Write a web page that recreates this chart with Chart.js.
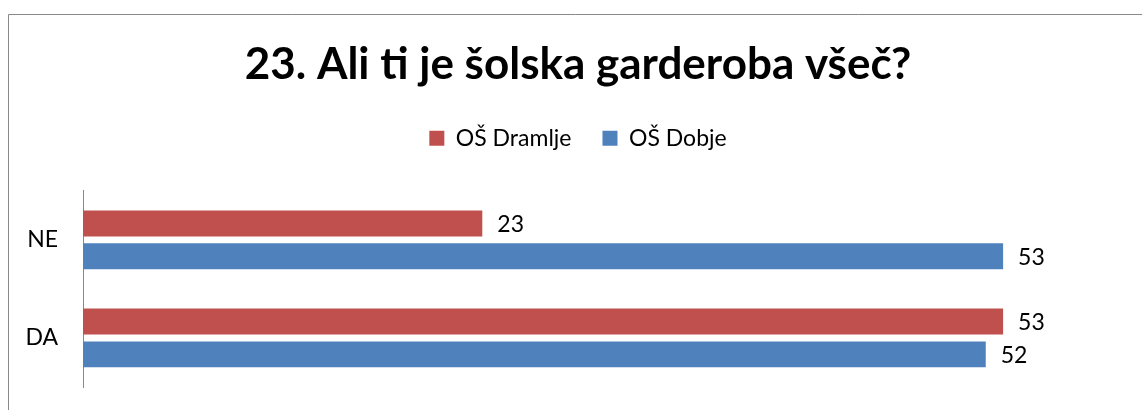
<!DOCTYPE html>
<html>
<head>
<meta charset="utf-8">
<script src="https://cdn.jsdelivr.net/npm/chart.js@4/dist/chart.umd.min.js"></script>
<style>
html,body{margin:0;padding:0;background:#fff;}
#wrap{position:absolute;left:0;top:0;width:1142px;height:410px;}
</style>
</head>
<body>
<div id="wrap"><canvas id="c" width="1142" height="410"></canvas></div>
<script>
const titleText = '23. Ali ti je šolska garderoba všeč?';
const categories = ['NE', 'DA'];
const seriesNames = ['OŠ Dramlje', 'OŠ Dobje'];
const dramlje = [23, 53];
const dobje = [53, 52];
const colors = ['#C0504D', '#4F81BD'];
const FONT = 'Lato, "Open Sans", sans-serif';

const framePlugin = {
  id: 'frame',
  beforeDraw(chart) {
    const ctx = chart.ctx;
    ctx.save();
    ctx.strokeStyle = '#898989';
    ctx.lineWidth = 1;
    ctx.beginPath();
    ctx.moveTo(8.5, 410);
    ctx.lineTo(8.5, 14.5);
    ctx.lineTo(1142, 14.5);
    ctx.stroke();
    ctx.restore();
  }
};

const labelPlugin = {
  id: 'valLabels',
  afterDatasetsDraw(chart) {
    const ctx = chart.ctx;
    ctx.save();
    ctx.font = '23px ' + FONT;
    ctx.fillStyle = '#000';
    ctx.textAlign = 'left';
    ctx.textBaseline = 'middle';
    chart.data.datasets.forEach((ds, i) => {
      chart.getDatasetMeta(i).data.forEach((bar, j) => {
        ctx.fillText(String(ds.data[j]), bar.x + 15, bar.y + 1);
      });
    });
    ctx.restore();
  }
};

new Chart(document.getElementById('c'), {
  type: 'bar',
  data: {
    labels: categories,
    datasets: [
      { label: seriesNames[0], data: dramlje, backgroundColor: colors[0] },
      { label: seriesNames[1], data: dobje, backgroundColor: colors[1] }
    ]
  },
  options: {
    indexAxis: 'y',
    responsive: false,
    animation: false,
    devicePixelRatio: 1,
    categoryPercentage: 0.67,
    barPercentage: 0.79,
    layout: { padding: { top: 0, left: 14, right: 0, bottom: 23 } },
    plugins: {
      title: {
        display: true,
        text: titleText,
        color: '#000',
        font: { family: FONT, size: 44, weight: 'bold', lineHeight: 1.2 },
        padding: { top: 38, bottom: 5 }
      },
      legend: {
        display: true,
        labels: {
          color: '#000',
          font: { family: FONT, size: 23 },
          boxWidth: 15,
          boxHeight: 15,
          padding: 31
        }
      },
      tooltip: { enabled: false }
    },
    scales: {
      x: {
        position: 'top',
        display: true,
        min: 0,
        max: 61,
        ticks: { display: false },
        grid: { display: false },
        border: { display: false },
        afterFit(s) { s.height = 31; }
      },
      y: {
        grid: { display: false },
        border: { display: true, color: '#898989', width: 1 },
        ticks: { color: '#000', font: { family: FONT, size: 23 }, padding: 17 },
        afterFit(s) { s.width = 69; s.paddingTop = 0; s.paddingBottom = 0; }
      }
    }
  },
  plugins: [framePlugin, labelPlugin]
});
</script>
</body>
</html>
